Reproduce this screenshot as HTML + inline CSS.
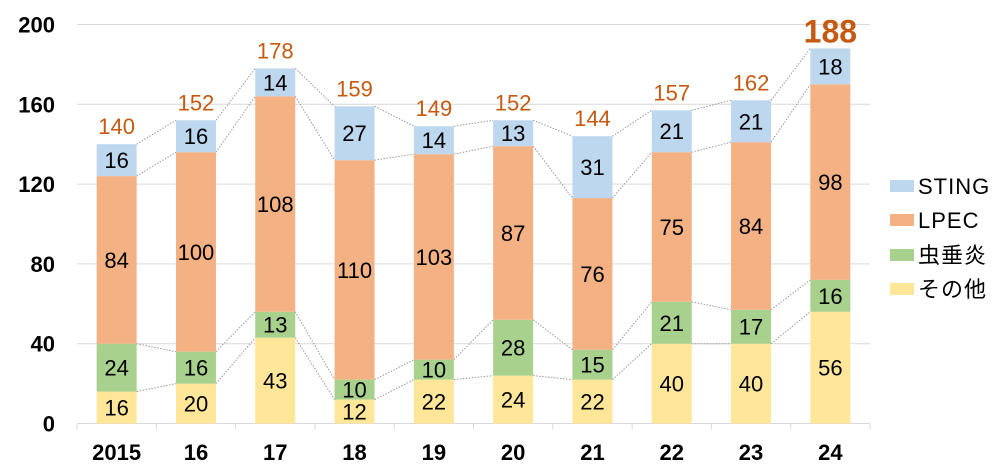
<!DOCTYPE html>
<html><head><meta charset="utf-8"><style>
body{margin:0;background:#fff;}
svg{display:block;font-family:"Liberation Sans","Noto Sans CJK JP",sans-serif;}
</style></head><body>
<svg id="chart" width="1001" height="475" viewBox="0 0 1001 475"></svg>
<script>
const categories=["2015","16","17","18","19","20","21","22","23","24"];
const other=[16,20,43,12,22,24,22,40,40,56];
const mushi=[24,16,13,10,10,28,15,21,17,16];
const lpec=[84,100,108,110,103,87,76,75,84,98];
const sting=[16,16,14,27,14,13,31,21,21,18];
const yTicks=[0,40,80,120,160,200];
const seriesNames=["その他","虫垂炎","LPEC","STING"];
const seriesColors=["#ffe699","#a9d18e","#f4b183","#bdd7ee"];
const series=[other,mushi,lpec,sting];
const NS="http://www.w3.org/2000/svg";
const svg=document.getElementById('chart');
const L=77,R=870,T=24.5,B=423.5,bw=40;
const step=(R-L)/categories.length;
function y(v){return B-(v/200)*(B-T);}
function x(i){return L+step*(i+0.5);}
function mk(tag,attrs,parent){const e=document.createElementNS(NS,tag);for(const k in attrs)e.setAttribute(k,attrs[k]);(parent||svg).appendChild(e);return e;}
yTicks.forEach(t=>{
  if(t>0){const g=mk('line',{x1:L,x2:R,y1:y(t),y2:y(t),stroke:'#d9d9d9','stroke-width':1});
  
  }
  const tx=mk('text',{x:55,y:y(t)+8,'text-anchor':'end','font-size':22,'font-weight':'bold',fill:'#000'});
  tx.textContent=t;
  
  
});
const ax=mk('line',{x1:L,x2:R,y1:B,y2:B,stroke:'#d9d9d9','stroke-width':1});


for(let i=0;i<=categories.length;i++){
  const tk=mk('line',{x1:L+step*i,x2:L+step*i,y1:B,y2:B+6,stroke:'#d9d9d9'});
  
  
}
const cum=categories.map((c,i)=>{let s=0;return series.map(a=>{s+=a[i];return s;});});
for(let i=0;i<categories.length-1;i++){
  for(let k=0;k<4;k++){
    const ln=mk('line',{x1:x(i)+bw/2,y1:y(cum[i][k]),x2:x(i+1)-bw/2,y2:y(cum[i+1][k]),stroke:'#999','stroke-width':1,'stroke-dasharray':'1.5,1.5'});
    
    
  }
}
categories.forEach((c,i)=>{
  let base=0;
  series.forEach((arr,k)=>{
    const v=arr[i];
    const r=mk('rect',{x:x(i)-bw/2,y:y(base+v),width:bw,height:y(base)-y(base+v),fill:seriesColors[k]});
    
    
    const t=mk('text',{x:x(i),y:(y(base)+y(base+v))/2+8,'text-anchor':'middle','font-size':22,fill:'#000'});
    t.textContent=v;
    
    
    base+=v;
  });
  const last=i===categories.length-1;
  const tt=mk('text',{x:x(i),y:y(base)-(last?6:10),'text-anchor':'middle','font-size':last?32:22,'font-weight':last?'bold':'normal',fill:'#c55a11'});
  tt.textContent=base;
  
  
  const xl=mk('text',{x:x(i),y:460,'text-anchor':'middle','font-size':22,'font-weight':'bold',fill:'#000'});
  xl.textContent=c;
  
  
});
const legY=[186,220,255,289];
[3,2,1,0].forEach((k,j)=>{
  const s=mk('rect',{x:890,y:legY[j]-6,width:24,height:12,fill:seriesColors[k]});
  
  
  const t=mk('text',{x:918,y:legY[j]+8,'font-size':22,fill:'#000','letter-spacing':'1'});
  t.textContent=seriesNames[k];
  
  
});
</script>
</body></html>
